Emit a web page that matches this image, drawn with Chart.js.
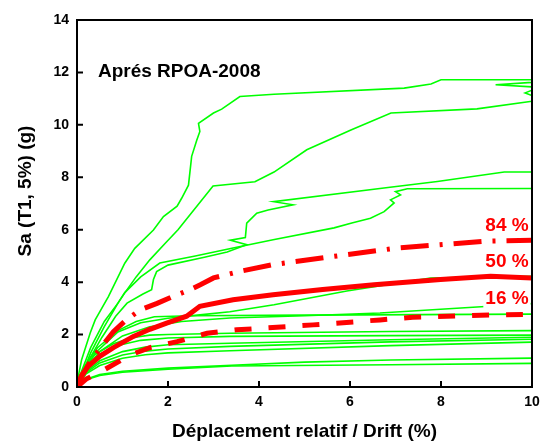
<!DOCTYPE html>
<html>
<head>
<meta charset="utf-8">
<script src="https://cdn.jsdelivr.net/npm/chart.js@4"></script>
<style>
  html, body { margin: 0; padding: 0; background: #fff; }
  #wrap { width: 548px; height: 446px; }
</style>
</head>
<body>
<div id="wrap"><canvas id="idaChart" width="548" height="446"></canvas></div>
<script>
// IDA curves, one array of [drift %, Sa g] pairs per record
const curveA = [[0,0],[0.04,0.5],[0.1,1.03],[0.29,2.06],[0.4,2.56],[0.69,3.45],[1.05,4.72],[1.27,5.29],[1.68,5.99],[1.9,6.5],[2.2,6.9],[2.3,7.2],[2.45,7.7],[2.52,8.8],[2.63,9.4],[2.7,9.75],[2.67,10.06],[3.0,10.45],[3.18,10.6],[3.58,11.08],[4.33,11.17],[7.19,11.4],[7.78,11.56],[8.0,11.72],[10,11.72],[10,11.62],[9.2,11.53],[10,11.45],[10,11.32],[9.85,11.22],[10,11.12],[10,10.9]];
const curveB = [[0,0],[0.1,0.6],[0.3,1.5],[0.6,2.5],[0.9,3.2],[1.05,3.59],[1.3,4.2],[1.6,4.85],[1.95,5.5],[2.22,6.0],[2.99,7.67],[3.91,7.83],[4.33,8.2],[5.05,9.05],[6.02,9.8],[6.9,10.45],[8.79,10.61],[10,10.9]];
const curveC = [[0,0],[0.25,1.0],[0.55,1.9],[0.85,2.7],[1.1,3.2],[1.45,3.55],[1.64,3.71],[1.68,4.1],[1.75,4.4],[2.0,4.65],[2.8,4.95],[3.3,5.15],[3.73,5.43],[3.37,5.6],[3.7,5.7],[3.73,6.25],[3.95,6.63],[4.2,6.75],[4.75,6.95],[4.32,7.07],[6.88,7.62],[7.92,7.84],[9.39,8.2],[10,8.2]];
const curveE = [[0,0],[0.3,1.3],[0.6,2.3],[0.9,3.2],[1.05,3.6],[1.4,4.2],[1.82,4.73],[2.6,5.0],[3.43,5.3],[4.31,5.62],[5.65,6.07],[6.04,6.26],[6.45,6.44],[6.75,6.69],[6.97,7.02],[6.89,7.14],[7.11,7.33],[7.0,7.45],[7.26,7.56],[10,7.57]];
const curveG = [[0,0],[0.15,0.6],[0.4,1.3],[0.9,2.1],[1.4,2.45],[2,2.62],[2.7,2.75],[3.36,2.87],[4.33,3.14],[5.93,3.66],[7.77,4.16],[10,4.22]];
const curveH = [[0,0],[0.2,0.7],[0.5,1.35],[1.0,1.95],[1.6,2.3],[2.3,2.5],[3.36,2.63],[5,2.72],[6.66,2.82],[8.97,3.07],[10,3.18]];
const curveI = [[0,0],[0.15,0.75],[0.45,1.5],[0.9,2.15],[1.3,2.5],[1.7,2.68],[2.5,2.72],[5,2.74],[10,2.78]];
const curveJ = [[0,0],[0.15,0.7],[0.4,1.25],[0.8,1.65],[1.2,1.88],[1.6,1.98],[2,2.0],[3.36,2.05],[6.88,2.12],[10,2.15]];
const curveK = [[0,0],[0.2,0.75],[0.5,1.25],[0.9,1.58],[1.4,1.78],[2,1.87],[3.36,1.93],[6.88,1.96],[10,1.98]];
const curveL = [[0,0],[0.2,0.6],[0.5,1.0],[1.0,1.35],[1.5,1.52],[2,1.61],[3.36,1.67],[6.88,1.8],[10,1.9]];
const curveM = [[0,0],[0.2,0.55],[0.5,0.92],[1.0,1.22],[1.5,1.37],[2,1.45],[3.36,1.55],[6.88,1.72],[10,1.82]];
const curveN = [[0,0],[0.2,0.5],[0.5,0.82],[1.0,1.1],[1.5,1.23],[2,1.3],[3.36,1.38],[6.88,1.58],[10,1.71]];
const curveO = [[0,0],[0.2,0.3],[0.5,0.48],[1,0.6],[2,0.72],[3.4,0.83],[5,0.95],[6.9,1.03],[10,1.1]];
const curveP = [[0,0],[0.2,0.28],[0.5,0.44],[1,0.56],[2,0.68],[3.4,0.8],[6.9,0.85],[10,0.9]];

// fractile curves
const frac84 = [[0,0],[0.1,0.4],[0.29,0.97],[0.5,1.45],[0.8,2.11],[1.09,2.57],[1.4,2.95],[1.76,3.19],[2.1,3.45],[2.48,3.71],[2.71,3.9],[3.0,4.16],[3.6,4.42],[4.31,4.67],[5.5,4.95],[7.03,5.3],[8.95,5.56],[10,5.6]];
const frac50 = [[0,0],[0.1,0.45],[0.25,0.8],[0.5,1.17],[0.8,1.5],[1.24,1.93],[1.6,2.2],[1.97,2.44],[2.41,2.7],[2.7,3.08],[3.43,3.33],[4.31,3.52],[5.4,3.72],[6.53,3.9],[7.99,4.1],[9.09,4.22],[10,4.16]];
const frac16 = [[0,0],[0.2,0.3],[0.59,0.65],[1.17,1.22],[1.6,1.5],[2.2,1.73],[2.86,2.05],[3.51,2.18],[5.19,2.37],[6.66,2.56],[7.38,2.66],[9.08,2.75],[9.8,2.77]];

const fracLabels = ['84 %', '50 %', '16 %'];
const xTicks = [0, 2, 4, 6, 8, 10];
const yTicks = [0, 2, 4, 6, 8, 10, 12, 14];

const FONT = "'Liberation Sans', Arial, sans-serif";
const toXY = arr => arr.map(p => ({ x: p[0], y: p[1] }));

const records = [curveA, curveB, curveC, curveE, curveG, curveH, curveI, curveJ, curveK, curveL, curveM, curveN, curveO, curveP];

const datasets = [
  { data: toXY(frac84), borderColor: '#ff0000', borderWidth: 5, borderDash: [28, 11, 3, 11], order: 1 },
  { data: toXY(frac50), borderColor: '#ff0000', borderWidth: 5, order: 1 },
  { data: toXY(frac16), borderColor: '#ff0000', borderWidth: 5, borderDash: [17, 17], order: 1 }
];
records.forEach(r => {
  datasets.push({ data: toXY(r), borderColor: '#00ff00', borderWidth: 1.6, order: 2 });
});

// frame round the plot with inward ticks on left and bottom
const frame = {
  id: 'frame',
  afterDatasetsDraw(chart) {
    const { ctx, chartArea: a, scales: { x, y } } = chart;
    ctx.save();
    ctx.strokeStyle = '#000';
    ctx.lineWidth = 2;
    ctx.strokeRect(a.left, a.top, a.right - a.left, a.bottom - a.top);
    ctx.beginPath();
    xTicks.forEach(v => {
      const px = x.getPixelForValue(v);
      ctx.moveTo(px, a.bottom);
      ctx.lineTo(px, a.bottom - 6);
    });
    yTicks.forEach(v => {
      const py = y.getPixelForValue(v);
      ctx.moveTo(a.left, py);
      ctx.lineTo(a.left + 6, py);
    });
    ctx.stroke();
    ctx.restore();
  }
};

// fractile labels (white box behind), caption and the y axis title
const notes = {
  id: 'notes',
  afterDatasetsDraw(chart) {
    const { ctx, scales: { x, y } } = chart;
    ctx.save();
    ctx.font = 'bold 19px ' + FONT;
    ctx.textAlign = 'center';
    ctx.textBaseline = 'middle';
    const labelY = [6.15, 4.77, 3.36];
    fracLabels.forEach((t, i) => {
      const px = x.getPixelForValue(9.45);
      const py = y.getPixelForValue(labelY[i]);
      const w = ctx.measureText(t).width;
      ctx.fillStyle = '#fff';
      ctx.fillRect(px - w / 2 - 2, py - 9, w + 4, 18);
      ctx.fillStyle = '#ff0000';
      ctx.fillText(t, px, py);
    });
    ctx.fillStyle = '#000';
    ctx.textAlign = 'left';
    ctx.fillText('Aprés RPOA-2008', x.getPixelForValue(0.46), y.getPixelForValue(12.02));

    ctx.translate(26, 191);
    ctx.rotate(-Math.PI / 2);
    ctx.textAlign = 'center';
    ctx.fillText('Sa (T1, 5%) (g)', 0, 0);
    ctx.restore();
  }
};

const tickFont = { family: FONT, weight: 'bold', size: 14 };

new Chart(document.getElementById('idaChart'), {
  type: 'scatter',
  data: { datasets },
  options: {
    responsive: false,
    animation: false,
    showLine: true,
    layout: { padding: { top: 20, right: 16, left: 0, bottom: 0 } },
    elements: {
      point: { radius: 0 },
      line: { tension: 0, fill: false }
    },
    plugins: {
      legend: { display: false },
      tooltip: { enabled: false }
    },
    scales: {
      x: {
        type: 'linear',
        min: 0,
        max: 10,
        ticks: { stepSize: 2, font: tickFont, color: '#000', padding: 7 },
        grid: { display: false, drawTicks: false },
        border: { display: false },
        title: {
          display: true,
          text: 'Déplacement relatif / Drift (%)',
          color: '#000',
          font: { family: FONT, weight: 'bold', size: 19 },
          padding: { top: 0, bottom: 3 }
        },
        afterFit: s => { s.height = 59; }
      },
      y: {
        type: 'linear',
        min: 0,
        max: 14,
        ticks: { stepSize: 2, font: tickFont, color: '#000', padding: 8 },
        grid: { display: false, drawTicks: false },
        border: { display: false },
        afterFit: s => { s.width = 77; }
      }
    }
  },
  plugins: [frame, notes]
});
</script>
</body>
</html>
